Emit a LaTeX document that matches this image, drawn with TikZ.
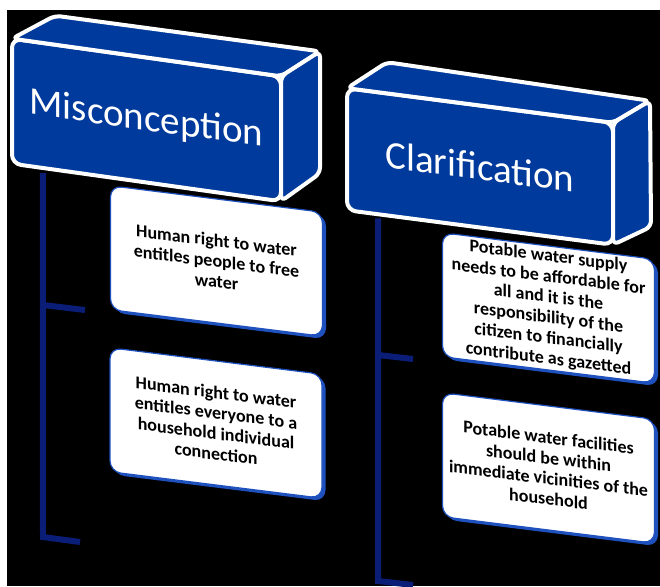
\documentclass[tikz,border=0pt]{standalone}
\usepackage{fontspec}
\setmainfont{Carlito}
\usetikzlibrary{positioning,calc,shadows}
\definecolor{headblue}{HTML}{003A9C}
\definecolor{edgeblue}{HTML}{1E50BE}
\definecolor{linenavy}{HTML}{0A1E78}

\begin{document}
\begin{tikzpicture}[x=1pt,y=-1pt,
      head/.style={fill=headblue,draw=white,line width=4pt,rounded corners=9pt,outer sep=0pt,inner sep=0pt,text=white,font=\fontsize{39}{44}\selectfont},
      face/.style={fill=headblue,draw=white,line width=4pt,rounded corners=6pt,line join=round},
      card/.style={fill=white,draw=edgeblue,line width=1.2pt,rounded corners=11pt,outer sep=0pt,inner sep=0pt,minimum width=212pt,minimum height=124pt,align=center,font=\fontsize{18}{20.5}\bfseries\selectfont,yslant=-0.125,drop shadow={shadow xshift=3.5pt,shadow yshift=-3pt,fill=edgeblue,opacity=1}},
      branch/.style={draw=linenavy,line width=6pt}]

    \useasboundingbox (0,0) rectangle (660,586);
    \fill[black] (7,10) rectangle (660,586);

    % headers
    \node[head,minimum width=269pt,minimum height=125pt,yslant=-0.14] (misc) at (146.5,120) {Misconception};
    \node[head,minimum width=266pt,minimum height=122pt,yslant=-0.13] (clar) at (480,166.5) {Clarification};

    \draw[face] (misc.north west) -- ++(43,-23) -- ($(misc.north east)+(39,-25)$) -- (misc.north east) -- cycle;
    \draw[face] (misc.north east) -- ++(39,-25) -- ($(misc.south east)+(39,-28)$) -- (misc.south east) -- cycle;
    \draw[face] (clar.north west) -- ++(40,-26) -- ($(clar.north east)+(37,-22)$) -- (clar.north east) -- cycle;
    \draw[face] (clar.north east) -- ++(37,-22) -- ($(clar.south east)+(38,-18)$) -- (clar.south east) -- cycle;

    % branches
    \coordinate (mtop)     at ($(misc.south west)!0.115!(misc.south east)+(0,5)$);
    \coordinate (mjoin)    at (43,305);
    \coordinate (mtick)    at (85,310);
    \coordinate (mfoot)    at (43,537);
    \coordinate (mfootend) at (80,542);
    \coordinate (ctop)     at ($(clar.south west)!0.117!(clar.south east)+(0,4)$);
    \coordinate (cjoin)    at (378,355);
    \coordinate (ctick)    at (413,359);
    \coordinate (cfoot)    at (378,581);
    \coordinate (cfootend) at (413,585);

    \draw[branch] (mtop) -- (mfoot) -- (mfootend);
    \draw[branch] (mjoin) -- (mtick);
    \draw[branch] (ctop) -- (cfoot) -- (cfootend);
    \draw[branch] (cjoin) -- (ctick);

    % cards
    \node[card] (mis1) at (216.5,261) {Human right to water\\entitles people to free\\water};
    \node[card] (mis2) at (216,423) {Human right to water\\entitles everyone to a\\household individual\\connection};
    \node[card] (cla1) at (548.5,308) {Potable water supply\\needs to be affordable for\\all and it is the\\responsibility of the\\citizen to financially\\contribute as gazetted};
    \node[card] (cla2) at (548.5,468) {Potable water facilities\\should be within\\immediate vicinities of the\\household};
  \end{tikzpicture}
\end{document}
